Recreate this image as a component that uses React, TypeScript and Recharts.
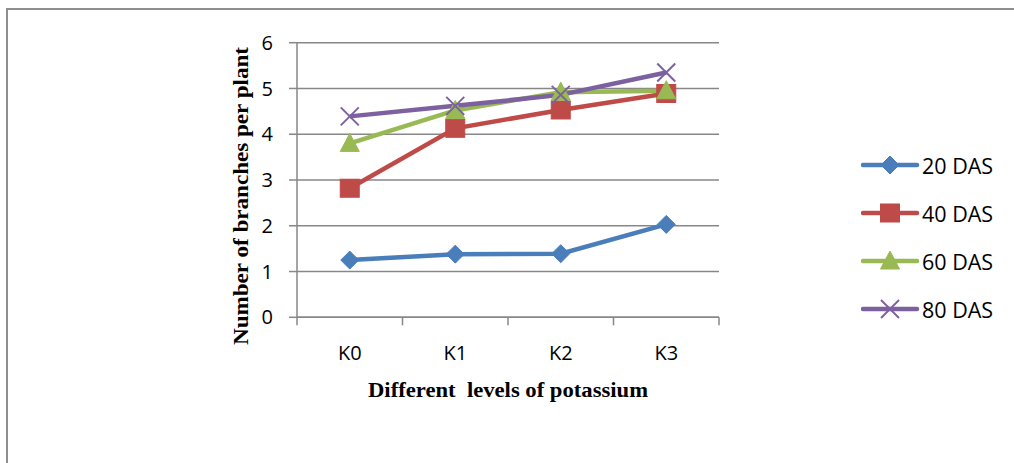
import React from 'react';
import { LineChart, Line, XAxis, YAxis, CartesianGrid, Legend, Label } from 'recharts';

const categories = ['K0', 'K1', 'K2', 'K3'];
const das20 = [1.25, 1.38, 1.39, 2.03];
const das40 = [2.82, 4.13, 4.53, 4.89];
const das60 = [3.8, 4.52, 4.92, 4.95];
const das80 = [4.39, 4.62, 4.86, 5.35];
const yTicks = [0, 1, 2, 3, 4, 5, 6];
const seriesNames = ['20 DAS', '40 DAS', '60 DAS', '80 DAS'];
const colors = ['#4A7EBB', '#BE4B48', '#98B954', '#7D60A0'];

const data = categories.map((c, i) => ({
  pos: i + 0.5,
  cat: c,
  s20: das20[i],
  s40: das40[i],
  s60: das60[i],
  s80: das80[i],
}));

const xTicks: number[] = [];
for (let i = 0; i <= categories.length * 2; i++) xTicks.push(i / 2);

const SANS = '"Open Sans", sans-serif';
const SERIF = '"Liberation Serif", "Times New Roman", serif';
const GRID = '#878787';

type Shape = 'diamond' | 'square' | 'triangle' | 'x';
const shapes: Shape[] = ['diamond', 'square', 'triangle', 'x'];

function Marker({ cx, cy, shape, color }: { cx: number; cy: number; shape: Shape; color: string }) {
  if (shape === 'diamond') {
    return <polygon points={`${cx},${cy - 9} ${cx + 9},${cy} ${cx},${cy + 9} ${cx - 9},${cy}`} fill={color} stroke={color} strokeWidth={1} />;
  }
  if (shape === 'square') {
    return <rect x={cx - 9.5} y={cy - 9} width={19} height={18} fill={color} stroke={color} strokeWidth={1} />;
  }
  if (shape === 'triangle') {
    return <polygon points={`${cx},${cy - 10} ${cx + 9.5},${cy + 8} ${cx - 9.5},${cy + 8}`} fill={color} stroke={color} strokeWidth={1} />;
  }
  return (
    <g stroke={color} strokeWidth={2}>
      <line x1={cx - 9} y1={cy - 9} x2={cx + 9} y2={cy + 9} />
      <line x1={cx - 9} y1={cy + 9} x2={cx + 9} y2={cy - 9} />
    </g>
  );
}

const makeDot = (shape: Shape, color: string) => (props: any) => {
  const { cx, cy, index } = props;
  if (cx == null || cy == null) return <g key={index} />;
  return <Marker key={index} cx={cx} cy={cy} shape={shape} color={color} />;
};

function XTick(props: any) {
  const { x, y, payload } = props;
  const v = payload.value as number;
  if (Number.isInteger(v)) {
    return <line x1={x} y1={y} x2={x} y2={y + 8} stroke={GRID} strokeWidth={1.5} />;
  }
  return (
    <text x={x} y={y + 28} dy="0.71em" textAnchor="middle" fill="#000" fontFamily={SANS} fontSize={20}>
      {categories[Math.floor(v)]}
    </text>
  );
}

function LegendContent() {
  return (
    <div style={{ fontFamily: SANS, fontSize: 21.5, color: '#000' }}>
      {seriesNames.map((n, i) => (
        <div key={n} style={{ display: 'flex', alignItems: 'center', height: 48 }}>
          <svg width={60} height={22} style={{ display: 'block' }}>
            <line x1={2} y1={11} x2={56} y2={11} stroke={colors[i]} strokeWidth={4.5} strokeLinecap="round" />
            <Marker cx={29} cy={11} shape={shapes[i]} color={colors[i]} />
          </svg>
          <span style={{ marginLeft: 1 }}>{n}</span>
        </div>
      ))}
    </div>
  );
}

export default function App() {
  const keys = ['s20', 's40', 's60', 's80'];
  return (
    <div style={{ position: 'absolute', left: 0, top: 0, width: 1014, height: 463, overflow: 'hidden', background: '#fff' }}>
      <div style={{ position: 'absolute', left: 6, top: 8, width: 3000, height: 3000, border: '2px solid #8f8f8f' }} />
      <div style={{ position: 'absolute', left: 0, top: 0 }}>
        <LineChart width={1014} height={463} data={data} margin={{ top: 42.7, right: 295, bottom: 115.7, left: 237 }}>
          <CartesianGrid vertical={false} stroke={GRID} strokeWidth={1.5} />
          <XAxis
            dataKey="pos"
            type="number"
            domain={[0, 4]}
            ticks={xTicks}
            interval={0}
            tickSize={0}
            tickMargin={0}
            tickLine={false}
            tick={<XTick />}
            axisLine={{ stroke: GRID, strokeWidth: 1.5 }}
            height={30}
          >
            <Label
              content={(p: any) => {
                const vb = p.viewBox;
                return (
                  <text x={vb.x + vb.width / 2} y={390} dy="0.35em" textAnchor="middle" fontFamily={SERIF} fontWeight="bold" fontSize={21} fill="#000" textLength={280} lengthAdjust="spacingAndGlyphs" style={{ whiteSpace: 'pre' }}>
                    {'Different  levels of potassium'}
                  </text>
                );
              }}
            />
          </XAxis>
          <YAxis
            domain={[0, 6]}
            ticks={yTicks}
            interval={0}
            width={60}
            tickSize={8}
            tickMargin={16}
            tickLine={{ stroke: GRID, strokeWidth: 1.5 }}
            axisLine={{ stroke: GRID, strokeWidth: 1.5 }}
            tick={{ fill: '#000', fontFamily: SANS, fontSize: 20 }}
          >
            <Label
              content={() => (
                <text x={240} y={196} dy="0.35em" textAnchor="middle" transform="rotate(-90 240 196)" fontFamily={SERIF} fontWeight="bold" fontSize={21.5} fill="#000" textLength={298} lengthAdjust="spacingAndGlyphs">
                  Number of branches per plant
                </text>
              )}
            />
          </YAxis>
          {keys.map((k, i) => (
            <Line
              key={k}
              dataKey={k}
              name={seriesNames[i]}
              type="linear"
              stroke={colors[i]}
              strokeWidth={4.5}
              dot={makeDot(shapes[i], colors[i])}
              activeDot={false}
              isAnimationActive={false}
            />
          ))}
          <Legend
            layout="horizontal"
            verticalAlign="middle"
            content={<LegendContent />}
            wrapperStyle={{ position: 'absolute', left: 861, top: 141, width: 153 }}
          />
        </LineChart>
      </div>
    </div>
  );
}
